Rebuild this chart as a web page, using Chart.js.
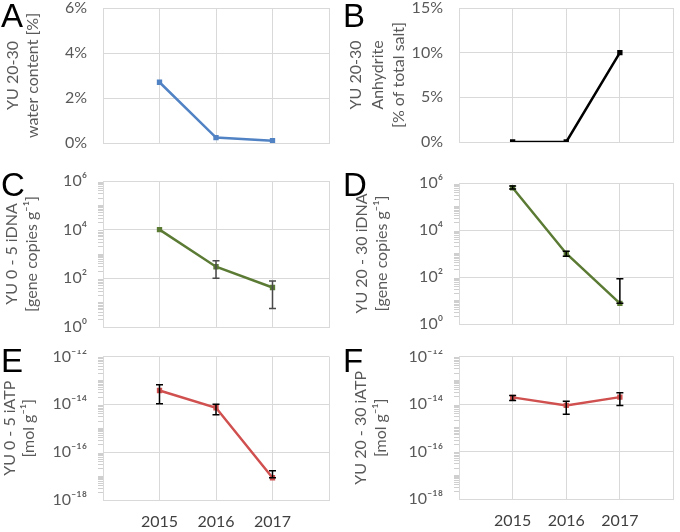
<!DOCTYPE html>
<html>
<head>
<meta charset="utf-8">
<script src="https://cdn.jsdelivr.net/npm/chart.js@4"></script>
<style>
  body { margin: 0; background: #fff; width: 680px; height: 532px; position: relative; overflow: hidden; }
  canvas { position: absolute; }
  .letter { position: absolute; font-family: "Liberation Sans", Arial, sans-serif; font-size: 33px; line-height: 33px; color: #000; }
</style>
</head>
<body>
<canvas id="cA" width="340" height="170" style="left:0;top:0"></canvas>
<canvas id="cB" width="340" height="170" style="left:340px;top:0"></canvas>
<canvas id="cC" width="340" height="180" style="left:0;top:170px"></canvas>
<canvas id="cD" width="340" height="180" style="left:340px;top:170px"></canvas>
<canvas id="cE" width="340" height="182" style="left:0;top:350px"></canvas>
<canvas id="cF" width="340" height="182" style="left:340px;top:350px"></canvas>
<div class="letter" style="left:1px;top:-1px">A</div>
<div class="letter" style="left:343px;top:-1px">B</div>
<div class="letter" style="left:1px;top:168px">C</div>
<div class="letter" style="left:343px;top:168px">D</div>
<div class="letter" style="left:1px;top:344px">E</div>
<div class="letter" style="left:343px;top:344px">F</div>
<script>
// sampling years
const years = [2015, 2016, 2017];
const yearLabels = ['2015', '2016', '2017'];

// A - water content (%)
const waterContent = [2.7, 0.24, 0.1];
const waterTicks = [0, 2, 4, 6];
const waterTickLabels = ['0%', '2%', '4%', '6%'];

// B - anhydrite (% of total salt)
const anhydrite = [0, 0, 10];
const anhydriteTicks = [0, 5, 10, 15];
const anhydriteTickLabels = ['0%', '5%', '10%', '15%'];

// C - iDNA 0-5
const dna05 = [1e4, 300, 42];
const dna05Low = [null, 100, 5.8];
const dna05High = [null, 525, 77];

// D - iDNA 20-30
const dna2030 = [6.3e5, 1000, 7.6];
const dna2030Low = [5.6e5, 770, 7.6];
const dna2030High = [7.4e5, 1260, 84];

const dnaTicks = [1, 1e2, 1e4, 1e6];
const dnaTickLabels = ['10⁰', '10²', '10⁴', '10⁶'];

// E - iATP 0-5
const atp05 = [3.8e-14, 7.2e-15, 8.5e-18];
const atp05Low = [1.07e-14, 3.7e-15, 8.5e-18];
const atp05High = [6.6e-14, 1e-14, 1.66e-17];

// F - iATP 20-30
const atp2030 = [1.9e-14, 8.7e-15, 1.95e-14];
const atp2030Low = [1.4e-14, 3.7e-15, 8.7e-15];
const atp2030High = [2.3e-14, 1.3e-14, 3e-14];

const atpTicks = [1e-18, 1e-16, 1e-14, 1e-12];
const atpTickLabels = ['10⁻¹⁸', '10⁻¹⁶', '10⁻¹⁴', '10⁻¹²'];

const FONT = 'Lato, "Open Sans", "DejaVu Sans", sans-serif';
const GRID = '#d9d9d9';

// draws the error bars on top of the lines
const errorBars = {
  id: 'errorBars',
  afterDatasetsDraw(chart, args, opts) {
    if (!opts.low) return;
    const ctx = chart.ctx;
    const x = chart.scales.x, y = chart.scales.y;
    ctx.save();
    ctx.strokeStyle = opts.color;
    ctx.lineWidth = 1.5;
    years.forEach((yr, i) => {
      if (opts.low[i] == null) return;
      const px = x.getPixelForValue(yr);
      const yl = y.getPixelForValue(opts.low[i]);
      const yh = y.getPixelForValue(opts.high[i]);
      ctx.beginPath();
      ctx.moveTo(px, yl); ctx.lineTo(px, yh);
      ctx.moveTo(px - 3.5, yl); ctx.lineTo(px + 3.5, yl);
      ctx.moveTo(px - 3.5, yh); ctx.lineTo(px + 3.5, yh);
      ctx.stroke();
    });
    ctx.restore();
  }
};

// excel style minor ticks for log axes (2..9 in each decade)
function minorTicks(major) {
  const out = [];
  for (let i = 0; i < major.length - 1; i++) {
    const e0 = Math.round(Math.log10(major[i]));
    const e1 = Math.round(Math.log10(major[i + 1]));
    for (let e = e0; e < e1; e++) {
      for (let k = 2; k <= 10; k++) {
        if (k === 10 && e + 1 === e1) continue;
        out.push(k * Math.pow(10, e));
      }
    }
  }
  return out;
}

function panel(id, cfg) {
  const canvas = document.getElementById(id);
  const W = canvas.width, H = canvas.height;
  const minors = cfg.log ? minorTicks(cfg.ticks) : [];
  return new Chart(canvas, {
    type: 'line',
    data: {
      datasets: [{
        data: years.map((yr, i) => ({ x: yr, y: cfg.values[i] })),
        borderColor: cfg.color,
        backgroundColor: cfg.color,
        borderWidth: 2.5,
        pointStyle: 'rect',
        pointRadius: 2,
        tension: 0
      }]
    },
    options: {
      responsive: false,
      animation: false,
      devicePixelRatio: 1,
      layout: { padding: { left: 0, top: cfg.top, right: W - cfg.right, bottom: 0 } },
      plugins: {
        legend: { display: false },
        tooltip: { enabled: false },
        errorBars: cfg.err || {}
      },
      scales: {
        x: {
          type: 'linear',
          min: 2014,
          max: 2018,
          border: { color: GRID },
          grid: { color: GRID, drawTicks: false },
          ticks: {
            stepSize: 1,
            padding: 12,
            color: '#404040',
            font: { family: FONT, size: 16 },
            callback: v => (cfg.showYears && years.includes(v)) ? yearLabels[years.indexOf(v)] : ''
          },
          afterFit: s => { s.height = H - cfg.bottom; s.paddingLeft = 0; s.paddingRight = 0; }
        },
        y: {
          type: cfg.log ? 'logarithmic' : 'linear',
          min: cfg.ticks[0],
          max: cfg.ticks[cfg.ticks.length - 1],
          border: { color: GRID },
          grid: {
            color: c => (c.tick && cfg.ticks.includes(c.tick.value)) ? GRID : 'rgba(0,0,0,0)',
            tickColor: c => (c.tick && cfg.ticks.includes(c.tick.value)) ? 'rgba(0,0,0,0)' : '#cfcfcf',
            tickLength: 5
          },
          afterBuildTicks: s => {
            s.ticks = cfg.ticks.concat(minors).sort((a, b) => a - b).map(v => ({ value: v }));
          },
          ticks: {
            autoSkip: false,
            padding: 11,
            color: '#595959',
            font: { family: FONT, size: 16 },
            callback: v => {
              const i = cfg.ticks.indexOf(v);
              return i >= 0 ? cfg.tickLabels[i] : '';
            }
          },
          title: {
            display: true,
            text: cfg.title,
            color: '#595959',
            font: { family: FONT, size: 16, lineHeight: cfg.titleLH || 1.3 },
            padding: { top: cfg.titlePad, bottom: 0 }
          },
          afterFit: s => { s.width = cfg.left; s.paddingTop = 0; s.paddingBottom = 0; }
        }
      }
    },
    plugins: [errorBars]
  });
}

panel('cA', {
  values: waterContent, color: '#5082c4', ticks: waterTicks, tickLabels: waterTickLabels,
  title: ['YU 20-30', 'water content [%]'], titlePad: 2,
  left: 103, right: 329, top: 8, bottom: 143
});
panel('cB', {
  values: anhydrite, color: '#000000', ticks: anhydriteTicks, tickLabels: anhydriteTickLabels,
  title: ['YU 20-30', 'Anhydrite', '[% of total salt]'], titlePad: 5, titleLH: 1.35,
  left: 119, right: 335, top: 8, bottom: 142
});
panel('cC', {
  values: dna05, color: '#5b7b35', log: true, ticks: dnaTicks, tickLabels: dnaTickLabels,
  title: ['YU 0 - 5 iDNA', '[gene copies g⁻¹]'], titlePad: 1,
  left: 103, right: 329, top: 11, bottom: 157,
  err: { low: dna05Low, high: dna05High, color: '#4a4a4a' }
});
panel('cD', {
  values: dna2030, color: '#5b7b35', log: true, ticks: dnaTicks, tickLabels: dnaTickLabels,
  title: ['YU 20 - 30 iDNA', '[gene copies g⁻¹]'], titlePad: 11,
  left: 119, right: 335, top: 13, bottom: 154,
  err: { low: dna2030Low, high: dna2030High, color: '#000000' }
});
panel('cE', {
  values: atp05, color: '#d0504f', log: true, ticks: atpTicks, tickLabels: atpTickLabels,
  title: ['YU 0 - 5 iATP', '[mol g⁻¹]'], titlePad: 0, titleLH: 1.2,
  left: 103, right: 329, top: 6, bottom: 150, showYears: true,
  err: { low: atp05Low, high: atp05High, color: '#000000' }
});
panel('cF', {
  values: atp2030, color: '#d0504f', log: true, ticks: atpTicks, tickLabels: atpTickLabels,
  title: ['YU 20 - 30 iATP', '[mol g⁻¹]'], titlePad: 10,
  left: 119, right: 336, top: 6, bottom: 149, showYears: true,
  err: { low: atp2030Low, high: atp2030High, color: '#000000' }
});
</script>
</body>
</html>
